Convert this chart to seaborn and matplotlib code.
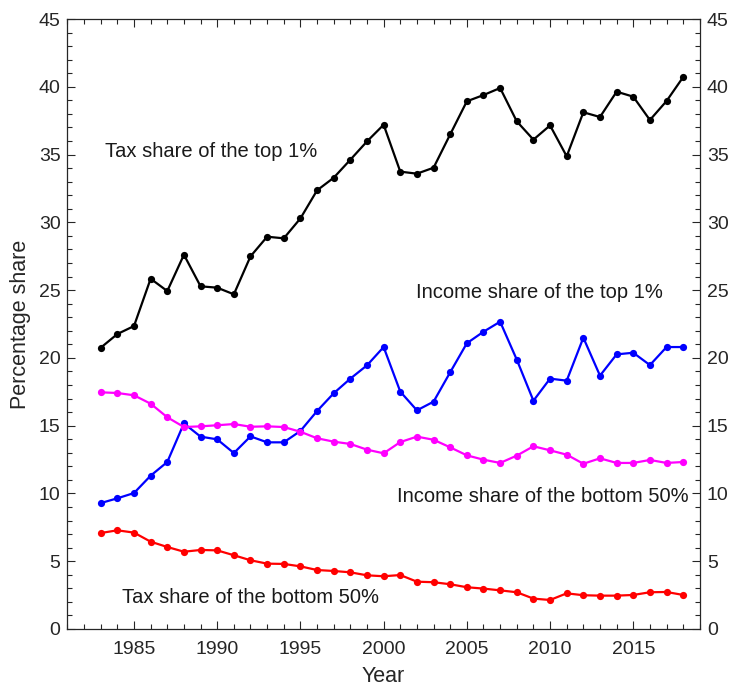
import numpy as np
import pandas as pd
import matplotlib
matplotlib.use("Agg")
import matplotlib.pyplot as plt
import seaborn as sns
from matplotlib.ticker import MultipleLocator

years = list(range(1983, 2019))

tax_top1 = [20.75, 21.76, 22.35, 25.84, 24.93, 27.61, 25.28, 25.18, 24.69, 27.49,
            28.94, 28.82, 30.29, 32.36, 33.29, 34.62, 35.97, 37.20, 33.74, 33.59,
            34.03, 36.49, 38.93, 39.39, 39.91, 37.45, 36.10, 37.15, 34.87, 38.12,
            37.77, 39.64, 39.27, 37.55, 38.95, 40.72]

income_top1 = [9.29, 9.64, 10.03, 11.31, 12.32, 15.17, 14.19, 13.99, 12.98, 14.21,
               13.77, 13.77, 14.61, 16.08, 17.39, 18.47, 19.45, 20.80, 17.51, 16.13,
               16.77, 18.94, 21.08, 21.93, 22.67, 19.87, 16.84, 18.47, 18.32, 21.49,
               18.69, 20.26, 20.38, 19.47, 20.80, 20.80]

income_bottom50 = [17.46, 17.41, 17.24, 16.62, 15.62, 14.90, 14.95, 15.03, 15.12, 14.92,
                   14.95, 14.90, 14.55, 14.07, 13.82, 13.65, 13.23, 12.96, 13.79, 14.19,
                   13.96, 13.40, 12.81, 12.49, 12.25, 12.79, 13.48, 13.18, 12.86, 12.19,
                   12.59, 12.25, 12.25, 12.47, 12.25, 12.32]

tax_bottom50 = [7.08, 7.28, 7.11, 6.44, 6.05, 5.70, 5.83, 5.80, 5.44, 5.07,
                4.82, 4.80, 4.62, 4.35, 4.28, 4.18, 3.96, 3.89, 3.98, 3.49,
                3.45, 3.30, 3.08, 2.98, 2.85, 2.71, 2.24, 2.14, 2.63, 2.49,
                2.46, 2.46, 2.51, 2.71, 2.73, 2.51]

series_names = ["Tax share of the top 1%", "Income share of the top 1%",
                "Income share of the bottom 50%", "Tax share of the bottom 50%"]
series_values = [tax_top1, income_top1, income_bottom50, tax_bottom50]
series_colors = ["#000000", "#0000ff", "#ff00ff", "#ff0000"]

# label anchors (left edge x, centre y) in data units
label_x = [1983.25, 2001.95, 2000.8, 1984.25]
label_y = [35.2, 24.8, 9.76, 2.31]

df = pd.concat([
    pd.DataFrame({"Year": years, "share": vals, "series": name})
    for name, vals in zip(series_names, series_values)
])

sns.set_style("ticks")
plt.rcParams["font.family"] = ["Liberation Sans", "DejaVu Sans"]

fig = plt.figure(figsize=(7.29, 6.89), dpi=100)
ax = fig.add_axes([0.0925, 0.0871, 0.8675, 0.8853])

sns.lineplot(data=df, x="Year", y="share", hue="series",
             palette=dict(zip(series_names, series_colors)),
             marker="o", markersize=5.2, markeredgewidth=0,
             linewidth=1.6, legend=False, ax=ax)

for name, x, y in zip(series_names, label_x, label_y):
    ax.text(x, y, name, ha="left", va="center", fontsize=14.5, color="#1a1a1a")

ax.set_xlim(1981, 2019)
ax.set_ylim(0, 45)
ax.xaxis.set_minor_locator(MultipleLocator(1))
ax.yaxis.set_major_locator(MultipleLocator(5))
ax.yaxis.set_minor_locator(MultipleLocator(1))
ax.set_xticks([1985, 1990, 1995, 2000, 2005, 2010, 2015])

ax.tick_params(which="both", direction="in", top=True, right=True,
               labelright=True, labelsize=14, labelcolor="#262626",
               color="#262626", width=0.8)
ax.tick_params(which="major", length=6)
ax.tick_params(which="minor", length=3.5)
ax.tick_params(axis="x", which="major", pad=9)
ax.tick_params(axis="y", which="major", pad=5)
for sp in ax.spines.values():
    sp.set_color("#262626")
    sp.set_linewidth(0.9)

ax.set_xlabel("Year", fontsize=15.5, color="#262626")
ax.set_ylabel("Percentage share", fontsize=15.5, color="#262626")
ax.xaxis.set_label_coords(0.5, -0.061)
ax.yaxis.set_label_coords(-0.057, 0.5)

fig.savefig("out.png", dpi=100)
